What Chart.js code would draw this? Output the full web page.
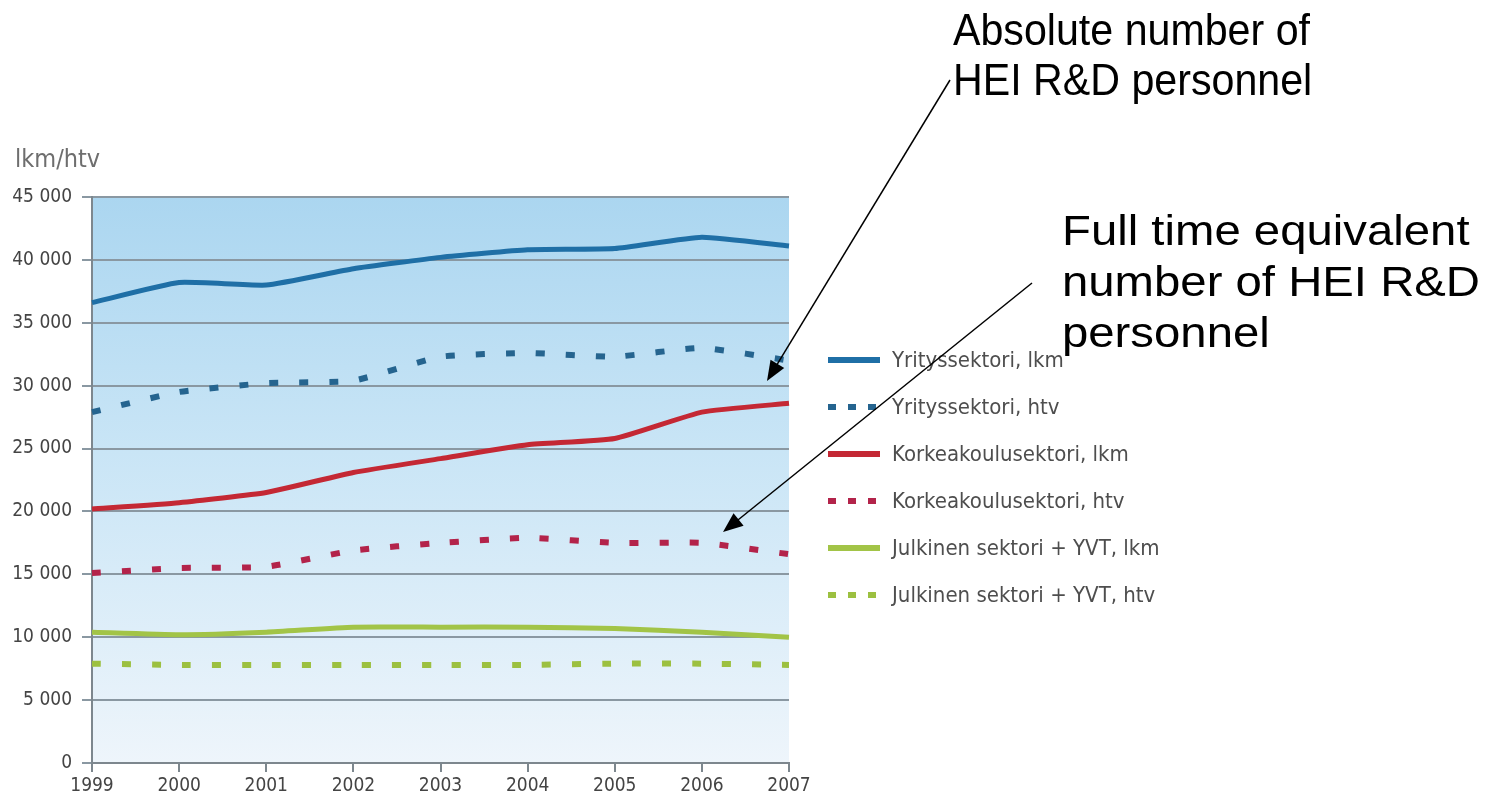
<!DOCTYPE html>
<html>
<head>
<meta charset="utf-8">
<title>T&K-henkilöstö sektoreittain 1999–2007</title>
<script src="https://cdn.jsdelivr.net/npm/chart.js@4.4.0/dist/chart.umd.min.js"></script>
<style>
  body { margin: 0; background: #ffffff; }
  #wrap { width: 1496px; height: 796px; position: relative; }
</style>
</head>
<body>
<div id="wrap"><canvas id="kaavio"></canvas></div>
<script>
// Vuodet (x-akseli)
const vuodet = ['1999', '2000', '2001', '2002', '2003', '2004', '2005', '2006', '2007'];

// Sarjat luettuna kuvasta (lkm = henkilöä, htv = henkilötyövuotta)
const yritysLkm = [36600, 38200, 38000, 39300, 40200, 40800, 40900, 41800, 41100];
const yritysHtv = [27900, 29500, 30200, 30400, 32300, 32600, 32300, 33000, 32000];
const korkeaLkm = [20200, 20700, 21500, 23100, 24200, 25300, 25800, 27900, 28600];
const korkeaHtv = [15100, 15500, 15600, 16900, 17500, 17900, 17500, 17500, 16600];
const julkinenLkm = [10400, 10200, 10400, 10800, 10800, 10800, 10700, 10400, 10000];
const julkinenHtv = [7900, 7800, 7800, 7800, 7800, 7800, 7900, 7900, 7800];

const sarjaNimet = [
	'Yrityssektori, lkm',
	'Yrityssektori, htv',
	'Korkeakoulusektori, lkm',
	'Korkeakoulusektori, htv',
	'Julkinen sektori + YVT, lkm',
	'Julkinen sektori + YVT, htv'
];

const yAkseliMax = 45000;
const yAkseliVali = 5000;
const yAkseliOtsikko = 'lkm/htv';

// Huomautustekstit (englanniksi kuten alkuperäisessä)
const huomautus1 = ['Absolute number of', 'HEI R&D personnel'];
const huomautus2 = ['Full time equivalent', 'number of HEI R&D', 'personnel'];

const kapea = "'Liberation Sans Narrow', 'Arial Narrow', 'DejaVu Sans Condensed', sans-serif";
const pisteet = [9, 21];

function sarja(nimi, data, vari, katko) {
	return {
		label: nimi,
		data: data,
		borderColor: vari,
		backgroundColor: vari,
		borderWidth: katko ? 6 : 5,
		borderDash: katko ? pisteet : [],
		borderCapStyle: 'butt',
		pointRadius: 0,
		tension: 0.15,
		fill: false
	};
}

// Taustan liukuväri piirtoalueelle
const tausta = {
	id: 'tausta',
	beforeDraw(chart) {
		const { ctx, chartArea: a } = chart;
		ctx.save();
		ctx.fillStyle = '#ffffff';
		ctx.fillRect(0, 0, chart.width, chart.height);
		const g = ctx.createLinearGradient(0, a.top, 0, a.bottom);
		g.addColorStop(0, '#abd6f0');
		g.addColorStop(0.45, '#c9e5f6');
		g.addColorStop(1, '#eef5fb');
		ctx.fillStyle = g;
		ctx.fillRect(a.left, a.top, a.right - a.left, a.bottom - a.top);
		ctx.restore();
	}
};

// Selite, akselin otsikko ja nuolet
const lisat = {
	id: 'lisat',
	afterDraw(chart) {
		const ctx = chart.ctx;
		ctx.save();

		// y-akselin otsikko
		ctx.fillStyle = '#6e6e6e';
		ctx.font = '25px ' + kapea;
		ctx.textBaseline = 'alphabetic';
		ctx.fillText(yAkseliOtsikko, 15, 167);

		// selite
		chart.data.datasets.forEach(function (ds, i) {
			const y = 360 + i * 47;
			ctx.beginPath();
			ctx.strokeStyle = ds.borderColor;
			ctx.lineWidth = 6;
			ctx.setLineDash(ds.borderDash.length ? [8, 12] : []);
			ctx.moveTo(828, y);
			ctx.lineTo(880, y);
			ctx.stroke();
			ctx.setLineDash([]);
			ctx.fillStyle = '#4e4e4e';
			ctx.font = '22px ' + kapea;
			ctx.textBaseline = 'middle';
			ctx.fillText(ds.label, 892, y + 1);
		});

		// huomautukset
		teksti(ctx, huomautus1, 953, 45, 50, 44, 357);
		teksti(ctx, huomautus2, 1062, 245, 51, 42, 418, 1);
		nuoli(ctx, 950, 80, 767, 381);
		nuoli(ctx, 1032, 283, 723, 532);

		ctx.restore();
	}
};

function teksti(ctx, rivit, x, y, vali, koko, leveys, mittaRivi) {
	ctx.save();
	ctx.font = koko + 'px "Liberation Sans", Arial, sans-serif';
	ctx.fillStyle = '#000000';
	ctx.textBaseline = 'alphabetic';
	const mitta = ctx.measureText(rivit[mittaRivi || 0]).width;
	const sx = leveys / mitta;
	rivit.forEach(function (r, i) {
		ctx.save();
		ctx.translate(x, y + i * vali);
		ctx.scale(sx, 1);
		ctx.fillText(r, 0, 0);
		ctx.restore();
	});
	ctx.restore();
}

function nuoli(ctx, x1, y1, x2, y2) {
	const kulma = Math.atan2(y2 - y1, x2 - x1);
	const pit = 20, lev = 8;
	ctx.save();
	ctx.strokeStyle = '#000000';
	ctx.fillStyle = '#000000';
	ctx.lineWidth = 1.5;
	ctx.beginPath();
	ctx.moveTo(x1, y1);
	ctx.lineTo(x2 - Math.cos(kulma) * pit * 0.8, y2 - Math.sin(kulma) * pit * 0.8);
	ctx.stroke();
	ctx.beginPath();
	ctx.moveTo(x2, y2);
	ctx.lineTo(x2 - Math.cos(kulma) * pit + Math.sin(kulma) * lev, y2 - Math.sin(kulma) * pit - Math.cos(kulma) * lev);
	ctx.lineTo(x2 - Math.cos(kulma) * pit - Math.sin(kulma) * lev, y2 - Math.sin(kulma) * pit + Math.cos(kulma) * lev);
	ctx.closePath();
	ctx.fill();
	ctx.restore();
}

function tuhannet(v) {
	return String(v).replace(/\B(?=(\d{3})+(?!\d))/g, ' ');
}

let kaavio = new Chart(document.getElementById('kaavio').getContext('2d'), {
	type: 'line',
	data: {
		labels: vuodet,
		datasets: [
			sarja(sarjaNimet[0], yritysLkm, '#1f6fa6', false),
			sarja(sarjaNimet[1], yritysHtv, '#25648f', true),
			sarja(sarjaNimet[2], korkeaLkm, '#c42834', false),
			sarja(sarjaNimet[3], korkeaHtv, '#b3234a', true),
			sarja(sarjaNimet[4], julkinenLkm, '#a2c447', false),
			sarja(sarjaNimet[5], julkinenHtv, '#9cc040', true)
		]
	},
	options: {
		responsive: true,
		maintainAspectRatio: false,
		animation: false,
		layout: { padding: { top: 197, right: 707, left: 0, bottom: 0 } },
		plugins: {
			legend: { display: false },
			title: { display: false },
			tooltip: { enabled: false }
		},
		scales: {
			x: {
				offset: false,
				afterFit(s) { s.height = 33; },
				grid: { drawOnChartArea: false, drawTicks: true, tickLength: 9, color: '#7d878e', lineWidth: 2 },
				border: { display: true, color: '#7d878e', width: 2 },
				ticks: { color: '#444444', font: { family: kapea, size: 19 }, padding: 3, maxRotation: 0, autoSkip: false }
			},
			y: {
				min: 0,
				max: yAkseliMax,
				afterFit(s) { s.width = 92; },
				grid: { color: '#8a98a2', lineWidth: 2, tickLength: 10, drawTicks: true },
				border: { display: true, color: '#7d878e', width: 2 },
				ticks: {
					stepSize: yAkseliVali,
					padding: 10,
					color: '#444444',
					font: { family: kapea, size: 19 },
					callback: function (v) { return tuhannet(v); }
				}
			}
		}
	},
	plugins: [tausta, lisat]
});
</script>
</body>
</html>
